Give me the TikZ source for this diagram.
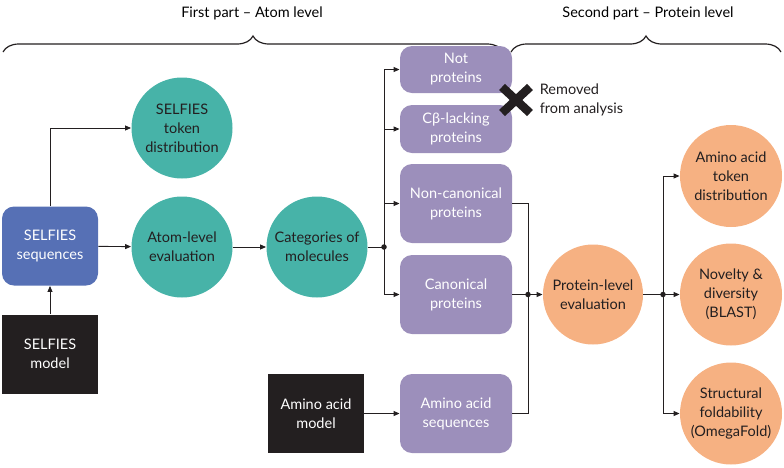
\documentclass[tikz,border=0pt]{standalone}
\usepackage{fontspec}
\setmainfont{Lato}
\usepackage{tikz}
\usetikzlibrary{arrows.meta, decorations.pathreplacing, positioning, calc}
\definecolor{selblue}{HTML}{5670B5}
\definecolor{atomteal}{HTML}{47B3A8}
\definecolor{catpurple}{HTML}{9C8FBB}
\definecolor{protorange}{HTML}{F6B182}
\definecolor{inkblack}{HTML}{231F20}

\begin{document}
\begin{tikzpicture}[x=1pt, y=-1pt,
		font=\fontsize{14.5}{19}\selectfont,
		>={Triangle[length=6pt,width=5pt]},
		line width=0.9pt, draw=inkblack,
		atomcirc/.style={circle, fill=atomteal, text=inkblack, minimum size=101pt, inner sep=0pt, align=center},
		protcirc/.style={circle, fill=protorange, text=inkblack, minimum size=100pt, inner sep=0pt, align=center},
		catbox/.style={rectangle, rounded corners=12pt, fill=catpurple, text=white, minimum width=112pt, inner sep=0pt, align=center},
		modelbox/.style={rectangle, fill=inkblack, text=white, minimum width=96pt, minimum height=79pt, inner sep=0pt, align=center},
		junction/.style={circle, fill=inkblack, minimum size=5.5pt, inner sep=0pt}]
		\useasboundingbox (0,0) rectangle (784,467);
		% Braces with headings
		\draw[line width=1.2pt, decorate, decoration={brace, amplitude=16pt}] (3,52) -- (503,52);
		\draw[line width=1.2pt, decorate, decoration={brace, amplitude=16pt}] (511,52) -- (781,52);
		\node (head1) at (252,13) {First part – Atom level};
		\node (head2) at (648,13) {Second part – Protein level};
		% Atom level
		\node[modelbox] (selmodel) at (50,354) {SELFIES\\model};
		\node[rectangle, rounded corners=12pt, fill=selblue, text=white, minimum width=96pt, minimum height=79pt, inner sep=0pt, align=center] (selseq) at (50,246) {SELFIES\\sequences};
		\node[atomcirc] (seltok) at (182,128) {SELFIES\\token\\distribution};
		\node[atomcirc] (atomeval) at (182,247) {Atom-level\\evaluation};
		\node[atomcirc] (categ) at (317,247) {Categories of\\molecules};
		% Categories
		\node[catbox, minimum height=47pt] (notprot) at (456,69.5) {Not\\proteins};
		\node[catbox, minimum height=48pt] (cbeta) at (456,129) {Cβ-lacking\\proteins};
		\node[catbox, minimum height=79pt] (noncan) at (456,203.5) {Non-canonical\\proteins};
		\node[catbox, minimum height=79pt] (canon) at (456,294.5) {Canonical\\proteins};
		\node[catbox, minimum height=79pt] (aaseq) at (456,413.5) {Amino acid\\sequences};
		\node[modelbox] (aamodel) at (316,413.5) {Amino acid\\model};
		% Removed mark
		\coordinate (cross) at (516,100);
		\draw[line width=8.5pt, inkblack] ($(cross)+(-14,-13)$) -- ($(cross)+(14,13)$);
		\draw[line width=8.5pt, inkblack] ($(cross)+(-14,13)$) -- ($(cross)+(14,-13)$);
		\node[anchor=west, align=left, text=inkblack] (removed) at (536,100) {Removed\\from analysis};
		% Protein level
		\node[protcirc] (proteval) at (593,294.5) {Protein-level\\evaluation};
		\node[protcirc, minimum size=102pt] (aatok) at (731,176) {Amino acid\\token\\distribution};
		\node[protcirc, minimum size=102pt] (novel) at (731,294.5) {Novelty \&\\diversity\\(BLAST)};
		\node[protcirc, minimum size=102pt] (struct) at (731,413.5) {Structural\\foldability\\(OmegaFold)};
		% Junctions
		\node[junction] (split1) at (384,247) {};
		\node[junction] (merge) at (528,294.5) {};
		\node[junction] (split2) at (663,294.5) {};
		% Connectors
		\draw[->] (selmodel) -- (selseq);
		\draw[->] (selseq) |- (seltok);
		\draw[->] (selseq) -- (atomeval);
		\draw[->] (atomeval) -- (categ);
		\draw (categ) -- (split1.center);
		\draw[->] (split1.center) |- (notprot);
		\draw[->] (split1.center) |- (cbeta);
		\draw[->] (split1.center) |- (noncan);
		\draw[->] (split1.center) |- (canon);
		\draw[->] (aamodel) -- (aaseq);
		\draw (noncan) -| (merge.center);
		\draw (aaseq) -| (merge.center);
		\draw (canon) -- (merge.center);
		\draw[->] (merge.center) -- (proteval);
		\draw (proteval) -- (split2.center);
		\draw[->] (split2.center) |- (aatok);
		\draw[->] (split2.center) -- (novel);
		\draw[->] (split2.center) |- (struct);
	\end{tikzpicture}
\end{document}
